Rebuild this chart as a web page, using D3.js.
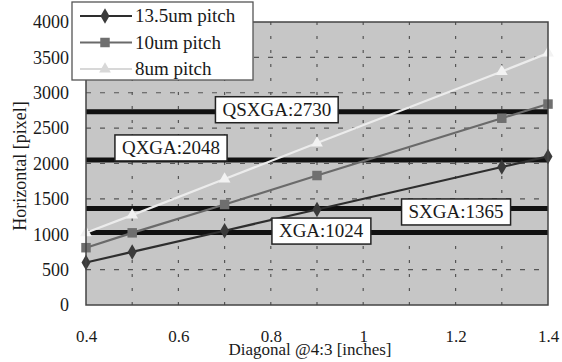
<!DOCTYPE html>
<html>
<head>
<meta charset="utf-8">
<script src="https://cdn.jsdelivr.net/npm/d3@7"></script>
<style>
  body { margin: 0; background: #fff; }
  svg text { font-family: "Liberation Serif", "DejaVu Serif", serif !important; fill: #1a1a1a; }
</style>
</head>
<body>
<svg id="chart" width="562" height="362"></svg>
<script>
// data
const diagonals = [0.4, 0.5, 0.7, 0.9, 1.3, 1.4];
const pitch135 = [600, 750, 1050, 1350, 1950, 2100];
const pitch10 = [810, 1020, 1420, 1830, 2640, 2840];
const pitch8 = [1020, 1270, 1780, 2290, 3300, 3560];
const seriesNames = ["13.5um pitch", "10um pitch", "8um pitch"];

const formatNames = ["QSXGA", "QXGA", "SXGA", "XGA"];
const formatWidths = [2730, 2048, 1365, 1024];
// where the label boxes sit, in data units
const labelX = [0.813, 0.584, 1.201, 0.909];
const labelY = [2760, 2220, 1315, 1045];

const xTicks = [0.4, 0.6, 0.8, 1, 1.2, 1.4];
const yTicks = [0, 500, 1000, 1500, 2000, 2500, 3000, 3500, 4000];

const svg = d3.select("#chart");
const margin = { top: 22, right: 14, bottom: 57, left: 86 };
const width = 562 - margin.left - margin.right;
const height = 362 - margin.top - margin.bottom;

const x = d3.scaleLinear().domain([0.4, 1.4]).range([0, width]);
const y = d3.scaleLinear().domain([0, 4000]).range([height, 0]);

const g = svg.append("g").attr("transform", `translate(${margin.left},${margin.top})`);

// plot background
g.append("rect")
  .attr("width", width).attr("height", height)
  .attr("fill", "#c6c6c6");

// vertical dotted grid every 0.1
g.selectAll(".vgrid")
  .data(d3.range(5, 14).map(d => d / 10))
  .enter().append("line")
  .attr("x1", d => x(d)).attr("x2", d => x(d))
  .attr("y1", 0).attr("y2", height)
  .attr("stroke", "#555").attr("stroke-width", 1.2)
  .attr("stroke-dasharray", "3,11");

// horizontal dashed grid every 500
g.selectAll(".hgrid")
  .data(yTicks.slice(1, -1))
  .enter().append("line")
  .attr("x1", 0).attr("x2", width)
  .attr("y1", d => y(d)).attr("y2", d => y(d))
  .attr("stroke", "#555").attr("stroke-width", 1.2)
  .attr("stroke-dasharray", "5,9");

// display format reference lines
g.selectAll(".fmt")
  .data(formatWidths)
  .enter().append("line")
  .attr("x1", 0).attr("x2", width)
  .attr("y1", d => y(d)).attr("y2", d => y(d))
  .attr("stroke", "#111").attr("stroke-width", 5);

// series
const series = [
  { name: seriesNames[0], values: pitch135, color: "#2e2e2e", mark: "#3a3a3a", symbol: d3.symbolDiamond, size: 70 },
  { name: seriesNames[1], values: pitch10, color: "#6a6a6a", mark: "#6f6f6f", symbol: d3.symbolSquare, size: 90 },
  { name: seriesNames[2], values: pitch8, color: "#ececec", mark: "#f2f2f2", symbol: d3.symbolTriangle, size: 60 }
];

const line = d3.line().x(d => x(d[0])).y(d => y(d[1]));

series.forEach(s => {
  const pts = diagonals.map((d, i) => [d, s.values[i]]);
  g.append("path")
    .datum(pts)
    .attr("d", line)
    .attr("fill", "none")
    .attr("stroke", s.color)
    .attr("stroke-width", 2.2);
  g.selectAll(null)
    .data(pts)
    .enter().append("path")
    .attr("transform", d => `translate(${x(d[0])},${y(d[1])})`)
    .attr("d", d3.symbol().type(s.symbol).size(s.size))
    .attr("fill", s.mark);
});

// format label boxes
formatNames.forEach((n, i) => {
  const cx = x(labelX[i]), cy = y(labelY[i]);
  const t = g.append("text")
    .attr("x", cx).attr("y", cy + 6)
    .attr("text-anchor", "middle")
    .attr("font-size", 19)
    .text(`${n}:${formatWidths[i]}`);
  const bb = t.node().getBBox();
  g.insert("rect", () => t.node())
    .attr("x", bb.x - 7).attr("y", cy - 13)
    .attr("width", bb.width + 14).attr("height", 26)
    .attr("fill", "#fff").attr("stroke", "#222").attr("stroke-width", 1.5);
});

// plot frame
g.append("rect")
  .attr("width", width).attr("height", height)
  .attr("fill", "none").attr("stroke", "#444").attr("stroke-width", 1.5);

// axes
const yAxis = g.append("g")
  .call(d3.axisLeft(y).tickValues(yTicks).tickSize(0).tickPadding(17).tickFormat(d3.format("d")));
yAxis.select(".domain").remove();
yAxis.selectAll("text").attr("font-size", 18);

const xAxis = g.append("g")
  .attr("transform", `translate(0,${height})`)
  .call(d3.axisBottom(x).tickValues(xTicks).tickSize(0).tickPadding(25).tickFormat(d3.format("")));
xAxis.select(".domain").remove();
xAxis.selectAll("text").attr("font-size", 17);

// axis titles
svg.append("text")
  .attr("x", 310).attr("y", 355)
  .attr("text-anchor", "middle")
  .attr("font-size", 17)
  .text("Diagonal @4:3 [inches]");

svg.append("text")
  .attr("transform", "translate(26,166) rotate(-90)")
  .attr("text-anchor", "middle")
  .attr("font-size", 18)
  .text("Horizontal [pixel]");

// legend
const legend = svg.append("g").attr("transform", "translate(72,2)");
legend.append("rect")
  .attr("width", 181).attr("height", 78)
  .attr("fill", "#fff").attr("stroke", "#555").attr("stroke-width", 1.3);

series.forEach((s, i) => {
  const ly = 14 + i * 26.5;
  legend.append("line")
    .attr("x1", 8).attr("x2", 60).attr("y1", ly).attr("y2", ly)
    .attr("stroke", i === 2 ? "#d8d8d8" : s.color).attr("stroke-width", 2.2);
  legend.append("path")
    .attr("transform", `translate(33,${ly})`)
    .attr("d", d3.symbol().type(s.symbol).size(s.size))
    .attr("fill", i === 2 ? "#d8d8d8" : s.mark);
  legend.append("text")
    .attr("x", 63).attr("y", ly + 6)
    .attr("font-size", 19)
    .text(s.name);
});
</script>
</body>
</html>
